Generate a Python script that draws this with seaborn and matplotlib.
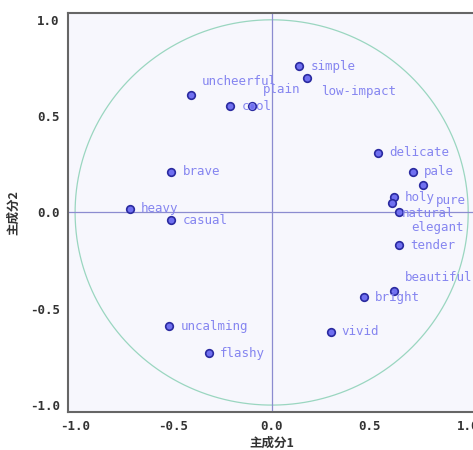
import numpy as np
import matplotlib
matplotlib.use("Agg")
import matplotlib.pyplot as plt
import seaborn as sns
import pandas as pd

# Principal component loadings
words = ["simple", "low-impact", "uncheerful", "cool", "plain", "brave", "heavy",
         "casual", "delicate", "pale", "pure", "holy", "elegant", "natural",
         "tender", "beautiful", "bright", "vivid", "uncalming", "flashy"]
pc1 = [0.14, 0.18, -0.41, -0.21, -0.10, -0.51, -0.72, -0.51, 0.54, 0.72,
       0.77, 0.62, 0.61, 0.65, 0.65, 0.62, 0.47, 0.30, -0.52, -0.32]
pc2 = [0.76, 0.70, 0.61, 0.55, 0.55, 0.21, 0.02, -0.04, 0.31, 0.21,
       0.14, 0.08, 0.05, 0.00, -0.17, -0.41, -0.44, -0.62, -0.59, -0.73]
ticks = [-1.0, -0.5, 0.0, 0.5, 1.0]

# label offsets in points (dx, dy), default is to the right of the point
label_offsets = {
    "low-impact": (10, -10),
    "uncheerful": (8, 10),
    "cool": (8, 0),
    "plain": (8, 12),
    "pure": (9, -11),
    "elegant": (14, -18),
    "natural": (2, -1),
    "beautiful": (8, 10),
}

df = pd.DataFrame({"word": words, "pc1": pc1, "pc2": pc2})

sns.set_style("white")
plt.rcParams["font.family"] = ["Noto Sans CJK JP", "DejaVu Sans"]

fig = plt.figure(figsize=(4.73, 4.5), dpi=100)
ax = fig.add_axes([0.1438, 0.0844, 0.861, 0.887])
ax.set_facecolor("#f7f7fd")

# unit circle and axis lines
t = np.linspace(0, 2 * np.pi, 400)
ax.plot(np.cos(t), np.sin(t), color="#9ad6c0", lw=0.9, zorder=1)
ax.axhline(0, color="#8c8cd0", lw=0.9, zorder=1)
ax.axvline(0, color="#8c8cd0", lw=0.9, zorder=1)

sns.scatterplot(data=df, x="pc1", y="pc2", ax=ax, s=30, color="#7070f0",
                edgecolor="#2a2aa0", linewidth=1.2, zorder=3)

for w, x, y in zip(words, pc1, pc2):
    dx, dy = label_offsets.get(w, (8, 0))
    ax.annotate(w, (x, y), xytext=(dx, dy), textcoords="offset points",
                ha="left", va="center", fontsize=9, color="#8585f0",
                family="DejaVu Sans Mono", zorder=4)

ax.set_xlim(-1.036, 1.036)
ax.set_ylim(-1.036, 1.036)
ax.set_xticks(ticks)
ax.set_yticks(ticks)
tick_font = dict(family="DejaVu Sans Mono", fontsize=9, fontweight="bold", color="#333333")
ax.set_xticklabels([f"{v:.1f}" for v in ticks], **tick_font)
ax.set_yticklabels([f"{v:.1f}" for v in ticks], **tick_font)
ax.tick_params(axis="y", direction="out", length=4, width=1, color="#555555", pad=2)
ax.tick_params(axis="x", direction="inout", length=5, width=1, color="#555555", pad=3)
ax.set_xlabel("主成分1", fontsize=9, fontweight="bold", color="#333333", labelpad=3)
ax.set_ylabel("主成分2", fontsize=9, fontweight="bold", color="#333333", labelpad=7)
for s in ax.spines.values():
    s.set_color("#666666")
    s.set_linewidth(1.5)

fig.savefig("out.png", dpi=100)
